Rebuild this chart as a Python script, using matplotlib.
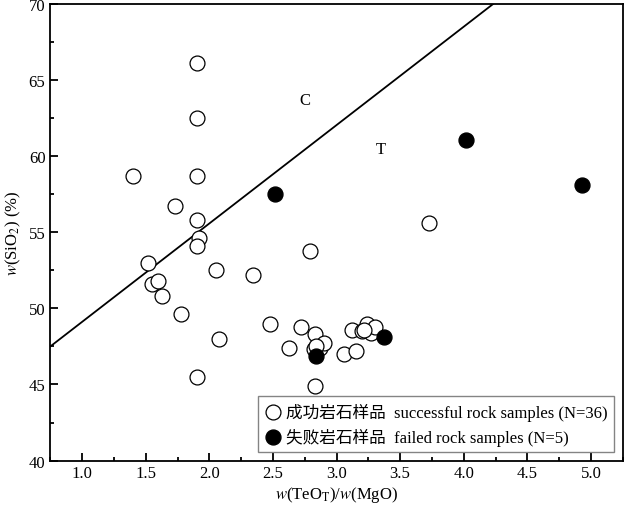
import numpy as np
import matplotlib.pyplot as plt
from matplotlib.ticker import MultipleLocator

plt.rcParams['font.family'] = ['Liberation Serif', 'Noto Sans CJK SC', 'Noto Sans CJK JP']
plt.rcParams['mathtext.fontset'] = 'stix'

# successful rock samples
ok_x = [1.40, 1.90, 1.90, 1.90, 1.73, 1.90, 1.92, 1.90, 1.52, 1.55, 1.60, 1.63,
        2.05, 2.34, 2.79, 3.73, 1.78, 2.08, 1.90, 2.48, 2.72, 2.63, 2.83, 2.82,
        2.87, 2.90, 2.83, 3.06, 3.15, 3.12, 3.20, 3.24, 3.27, 3.30, 2.84, 3.22]
ok_y = [58.7, 66.1, 62.5, 58.7, 56.7, 55.8, 54.6, 54.1, 53.0, 51.6, 51.8, 50.8,
        52.5, 52.2, 53.8, 55.6, 49.6, 48.0, 45.5, 49.0, 48.8, 47.4, 48.3, 47.3,
        47.4, 47.7, 44.9, 47.0, 47.2, 48.6, 48.5, 49.0, 48.4, 48.8, 47.5, 48.6]
# failed rock samples
bad_x = [2.52, 4.02, 4.93, 2.84, 3.37]
bad_y = [57.5, 61.1, 58.1, 46.9, 48.1]
# boundary line endpoints
line_x = [0.75, 4.23]
line_y = [47.5, 70.0]

fig, ax = plt.subplots(figsize=(6.29, 5.10), dpi=100)
fig.subplots_adjust(left=0.08, right=0.99, top=0.99, bottom=0.095)

ax.plot(line_x, line_y, color='black', lw=1.3)
ax.scatter(ok_x, ok_y, s=115, facecolors='white', edgecolors='black', lw=0.9, zorder=3,
           label='成功岩石样品  successful rock samples (N=36)')
ax.scatter(bad_x, bad_y, s=115, color='black', zorder=3,
           label='失败岩石样品  failed rock samples (N=5)')
ax.text(2.75, 63.7, 'C', fontsize=12, ha='center', va='center')
ax.text(3.35, 60.5, 'T', fontsize=12, ha='center', va='center')

ax.set_xlim(0.75, 5.25)
ax.set_ylim(40, 70)
ax.xaxis.set_major_locator(MultipleLocator(0.5))
ax.xaxis.set_minor_locator(MultipleLocator(0.25))
ax.yaxis.set_major_locator(MultipleLocator(5))
ax.yaxis.set_minor_locator(MultipleLocator(2.5))
ax.tick_params(which='both', direction='in', labelsize=12)
ax.tick_params(which='major', length=6, width=1.3)
ax.tick_params(which='minor', length=3, width=1.3)
for s in ax.spines.values():
    s.set_linewidth(1.3)
ax.set_xlabel('$w$(TeO$_\\mathrm{T}$)/$w$(MgO)', fontsize=12, labelpad=2)
ax.set_ylabel('$w$(SiO$_2$) (%)', fontsize=12, labelpad=4)
ax.legend(loc='lower right', fontsize=12, frameon=True, fancybox=False,
          edgecolor='0.4', handletextpad=0.3, borderpad=0.4, labelspacing=0.4,
          handlelength=1.0, bbox_to_anchor=(1.0, 0.0))
fig.savefig('out.png')
